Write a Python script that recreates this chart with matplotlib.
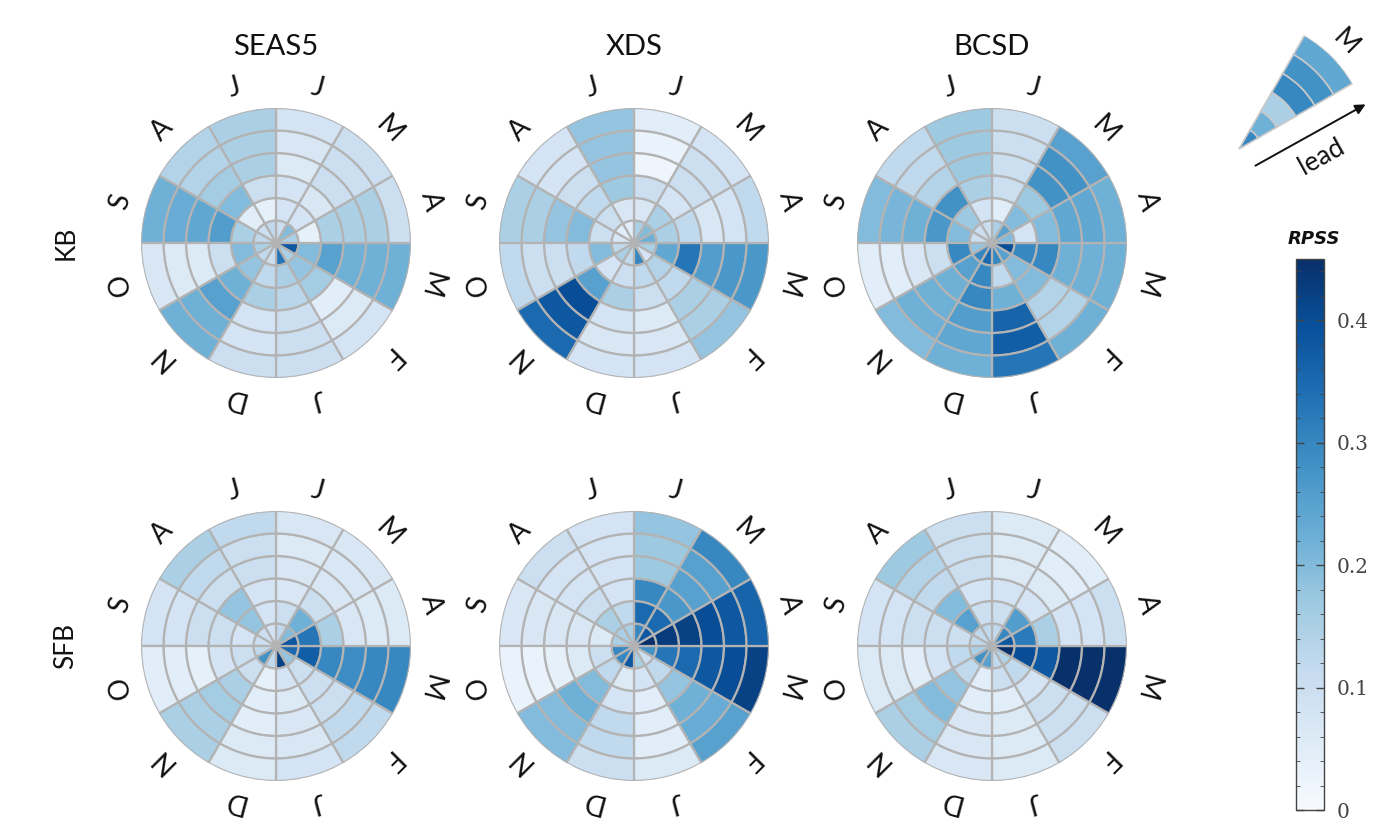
import numpy as np
import matplotlib.pyplot as plt
from matplotlib import colors, cm
from matplotlib.ticker import MultipleLocator
from matplotlib.patches import FancyArrowPatch

W, H = 1376, 819

months = ['J', 'F', 'M', 'A', 'M', 'J', 'J', 'A', 'S', 'O', 'N', 'D']
models = ['SEAS5', 'XDS', 'BCSD']
regions = ['KB', 'SFB']

# RPSS per month (Jan..Dec), each row = lead 0..5 (inner -> outer ring)
kb_seas5 = [
    [0.33, 0.15, 0.13, 0.10, 0.10, 0.10],
    [0.15, 0.18, 0.16, 0.05, 0.06, 0.08],
    [0.38, 0.20, 0.25, 0.22, 0.22, 0.22],
    [0.15, 0.04, 0.15, 0.15, 0.15, 0.10],
    [0.20, 0.08, 0.07, 0.10, 0.10, 0.10],
    [0.10, 0.08, 0.08, 0.06, 0.07, 0.08],
    [0.12, 0.04, 0.10, 0.15, 0.15, 0.15],
    [0.10, 0.05, 0.20, 0.16, 0.14, 0.14],
    [0.12, 0.15, 0.26, 0.24, 0.23, 0.22],
    [0.15, 0.20, 0.10, 0.06, 0.06, 0.07],
    [0.12, 0.18, 0.22, 0.25, 0.22, 0.22],
    [0.10, 0.12, 0.15, 0.08, 0.08, 0.10],
]
kb_xds = [
    [0.30, 0.12, 0.10, 0.06, 0.07, 0.08],
    [0.08, 0.14, 0.12, 0.15, 0.15, 0.18],
    [0.15, 0.24, 0.33, 0.26, 0.27, 0.27],
    [0.22, 0.15, 0.12, 0.07, 0.08, 0.12],
    [0.20, 0.15, 0.08, 0.10, 0.10, 0.08],
    [0.15, 0.07, 0.10, 0.02, 0.03, 0.05],
    [0.05, 0.07, 0.17, 0.18, 0.18, 0.18],
    [0.05, 0.10, 0.12, 0.10, 0.08, 0.08],
    [0.07, 0.10, 0.20, 0.18, 0.15, 0.15],
    [0.12, 0.20, 0.12, 0.10, 0.10, 0.12],
    [0.15, 0.08, 0.25, 0.40, 0.38, 0.35],
    [0.12, 0.10, 0.15, 0.08, 0.07, 0.08],
]
kb_bcsd = [
    [0.30, 0.12, 0.22, 0.36, 0.37, 0.33],
    [0.25, 0.20, 0.20, 0.14, 0.14, 0.22],
    [0.40, 0.30, 0.30, 0.22, 0.22, 0.22],
    [0.20, 0.08, 0.20, 0.24, 0.24, 0.22],
    [0.25, 0.20, 0.17, 0.28, 0.28, 0.25],
    [0.15, 0.05, 0.10, 0.10, 0.10, 0.10],
    [0.10, 0.08, 0.15, 0.17, 0.17, 0.17],
    [0.10, 0.17, 0.28, 0.14, 0.12, 0.12],
    [0.10, 0.20, 0.27, 0.22, 0.21, 0.20],
    [0.18, 0.30, 0.10, 0.07, 0.05, 0.05],
    [0.30, 0.25, 0.22, 0.22, 0.22, 0.20],
    [0.35, 0.30, 0.30, 0.26, 0.24, 0.22],
]
sfb_seas5 = [
    [0.42, 0.08, 0.06, 0.07, 0.07, 0.08],
    [0.18, 0.10, 0.10, 0.10, 0.12, 0.12],
    [0.35, 0.37, 0.30, 0.29, 0.30, 0.30],
    [0.38, 0.33, 0.15, 0.07, 0.06, 0.06],
    [0.20, 0.22, 0.10, 0.07, 0.07, 0.07],
    [0.12, 0.10, 0.07, 0.07, 0.06, 0.07],
    [0.08, 0.08, 0.08, 0.10, 0.10, 0.12],
    [0.10, 0.18, 0.18, 0.10, 0.12, 0.15],
    [0.10, 0.08, 0.10, 0.10, 0.08, 0.08],
    [0.12, 0.10, 0.08, 0.04, 0.05, 0.05],
    [0.28, 0.10, 0.15, 0.16, 0.15, 0.15],
    [0.12, 0.04, 0.05, 0.05, 0.06, 0.06],
]
sfb_xds = [
    [0.15, 0.08, 0.05, 0.05, 0.05, 0.06],
    [0.10, 0.12, 0.18, 0.22, 0.23, 0.25],
    [0.28, 0.33, 0.35, 0.38, 0.40, 0.42],
    [0.45, 0.43, 0.42, 0.40, 0.38, 0.36],
    [0.38, 0.35, 0.27, 0.25, 0.25, 0.30],
    [0.30, 0.35, 0.30, 0.17, 0.17, 0.18],
    [0.15, 0.12, 0.08, 0.08, 0.08, 0.08],
    [0.15, 0.15, 0.10, 0.08, 0.08, 0.10],
    [0.15, 0.06, 0.07, 0.07, 0.07, 0.07],
    [0.30, 0.10, 0.06, 0.04, 0.03, 0.03],
    [0.30, 0.12, 0.20, 0.22, 0.20, 0.20],
    [0.38, 0.06, 0.08, 0.12, 0.12, 0.10],
]
sfb_bcsd = [
    [0.12, 0.10, 0.05, 0.06, 0.06, 0.06],
    [0.14, 0.12, 0.08, 0.10, 0.10, 0.10],
    [0.45, 0.40, 0.38, 0.45, 0.45, 0.45],
    [0.38, 0.32, 0.15, 0.08, 0.08, 0.10],
    [0.30, 0.26, 0.08, 0.06, 0.05, 0.05],
    [0.12, 0.10, 0.08, 0.06, 0.06, 0.06],
    [0.12, 0.10, 0.08, 0.10, 0.10, 0.10],
    [0.12, 0.25, 0.20, 0.12, 0.14, 0.17],
    [0.12, 0.10, 0.10, 0.10, 0.08, 0.08],
    [0.15, 0.12, 0.08, 0.05, 0.06, 0.06],
    [0.28, 0.12, 0.18, 0.20, 0.16, 0.15],
    [0.25, 0.05, 0.05, 0.07, 0.07, 0.07],
]
panels = [[kb_seas5, kb_xds, kb_bcsd], [sfb_seas5, sfb_xds, sfb_bcsd]]

# legend wedge (one month, leads 0..5)
legend_month = 4
legend_vals = [0.30, 0.22, 0.15, 0.30, 0.28, 0.24]

cb_ticks = [0, 0.1, 0.2, 0.3, 0.4]
cb_labels = ['0', '0.1', '0.2', '0.3', '0.4']
vmax = 0.45

cmap = plt.get_cmap('Blues')
norm = colors.Normalize(0, vmax)
grid_col = '#b3b3b3'
label_font = ['Lato', 'DejaVu Sans']


def polar_at(fig, cx, cy, r):
    # polar axes whose centre sits at pixel (cx, cy), radius r pixels
    return fig.add_axes([(cx - r) / W, 1 - (cy + r) / H, 2 * r / W, 2 * r / H],
                        projection='polar')


def draw_wheel(ax, values, lw=1.6, labels=True):
    vals = np.asarray(values)
    n_month, n_lead = vals.shape
    width = 2 * np.pi / 12
    ax.set_theta_offset(np.deg2rad(270))
    ax.set_theta_direction(1)
    for m in range(n_month):
        theta = (m + 0.5) * width
        ax.bar(np.full(n_lead, theta), np.ones(n_lead), width=width,
               bottom=np.arange(n_lead), color=cmap(norm(vals[m])),
               edgecolor=grid_col, linewidth=lw)
        if labels:
            rot = np.rad2deg(theta) + 270 - 90
            ax.text(theta, 7.15, months[m], rotation=rot, ha='center', va='center',
                    fontsize=20, family=label_font, color='#111111')
    ax.set_ylim(0, n_lead)
    ax.set_axis_off()


fig = plt.figure(figsize=(W / 100, H / 100), dpi=100)

xs = [276, 634, 992]
ys = [243, 646]
R = 135
for i, row in enumerate(panels):
    for j, vals in enumerate(row):
        ax = polar_at(fig, xs[j], ys[i], R)
        draw_wheel(ax, vals)

for j, name in enumerate(models):
    fig.text(xs[j] / W, 1 - 47 / H, name, ha='center', va='center',
             fontsize=21, family=label_font, color='#111111')
for i, name in enumerate(regions):
    fig.text(66 / W, 1 - ys[i] / H, name, ha='center', va='center', rotation=90,
             fontsize=19, family=label_font, color='#111111')

# legend wedge
lax = polar_at(fig, 1239, 149, 131)
lax.set_theta_offset(np.deg2rad(270))
width = 2 * np.pi / 12
theta = (legend_month + 0.5) * width
lax.bar(np.full(6, theta), np.ones(6), width=width, bottom=np.arange(6),
        color=cmap(norm(np.array(legend_vals))), edgecolor='#c8c8c8', linewidth=1.2)
lax.text(theta, 6.9, months[legend_month], rotation=-45, ha='center', va='center',
         fontsize=19, family=label_font, color='#111111')
lax.set_ylim(0, 6)
lax.set_axis_off()

arrow = FancyArrowPatch((1253 / W, 1 - 167 / H), (1368 / W, 1 - 103 / H),
                        transform=fig.transFigure, arrowstyle='-|>', mutation_scale=15,
                        color='#111111', linewidth=1.4)
fig.add_artist(arrow)
fig.text(1321 / W, 1 - 157 / H, 'lead', rotation=29, ha='center', va='center',
         fontsize=19, family=label_font, color='#111111')

# colour bar
cax = fig.add_axes([1296 / W, 1 - 810 / H, 28 / W, 551 / H])
cb = fig.colorbar(cm.ScalarMappable(norm=norm, cmap=cmap), cax=cax)
cb.set_ticks(cb_ticks)
cb.set_ticklabels(cb_labels)
cax.yaxis.set_minor_locator(MultipleLocator(0.02))
cax.tick_params(which='both', direction='in', left=True, right=True, color='#444444',
                labelsize=14.5, labelcolor='#444444', pad=9)
cax.tick_params(which='major', length=6, width=1)
cax.tick_params(which='minor', length=3, width=0.6)
for t in cax.get_yticklabels():
    t.set_family('DejaVu Serif')
cb.outline.set_linewidth(1)
cb.outline.set_edgecolor('#444444')
fig.text(1314 / W, 1 - 239 / H, 'RPSS', ha='center', va='center', fontsize=13,
         style='italic', weight='bold', color='#111111')

fig.savefig('out.png', dpi=100)
